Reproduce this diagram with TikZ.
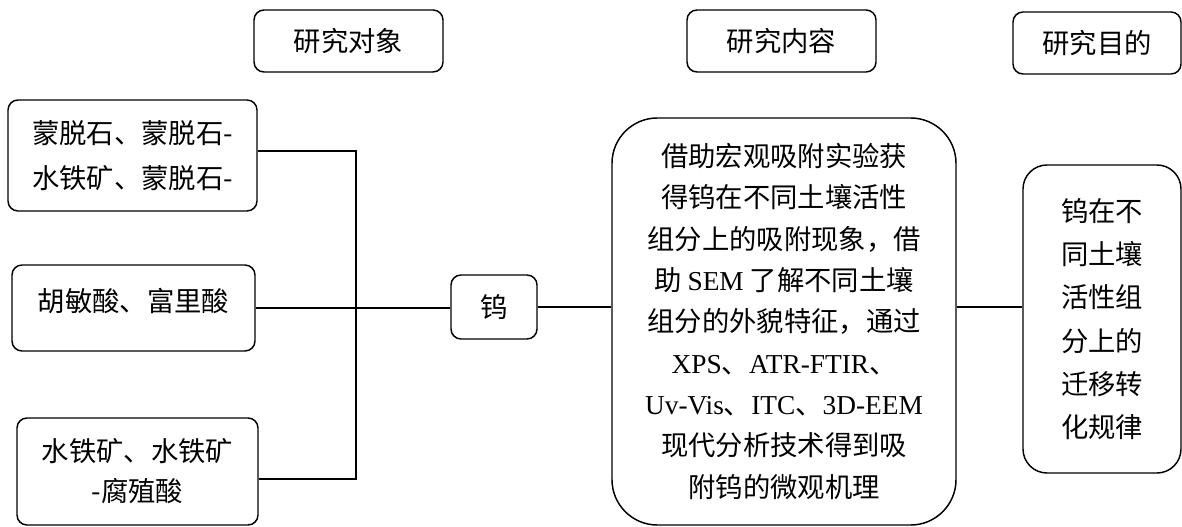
\documentclass[tikz,border=0pt]{standalone}
\usepackage{fontspec}
\setmainfont{Liberation Serif}
\newfontfamily\cjk{Noto Sans CJK SC}
\newcommand{\lat}[1]{{\rmfamily #1}}
\begin{document}
\begin{tikzpicture}[x=0.75pt,y=-0.75pt,
  box/.style={draw, line width=1.1pt, rounded corners=7.5pt, inner sep=0pt, align=center,
    font={\cjk\fontsize{20.5pt}{31pt}\selectfont}},
  txt/.style={inner sep=0pt, align=center, font={\cjk\fontsize{20.5pt}{31pt}\selectfont}},
  conn/.style={line width=1.1pt}]
\useasboundingbox (0,0) rectangle (1182,527);
% titles
\node[box, minimum width=141.75pt, minimum height=46.5pt] (t1) at (348.5,41) {研究对象};
\node[box, minimum width=141.75pt, minimum height=46.5pt] (t2) at (781.5,41) {研究内容};
\node[box, minimum width=126pt, minimum height=46.5pt] (t3) at (1097,43) {研究目的};
% left boxes
\node[box, minimum width=186.75pt, minimum height=83.25pt, font={\cjk\fontsize{20.5pt}{34pt}\selectfont}] (b1) at (132.5,155.5) {蒙脱石、蒙脱石-\\水铁矿、蒙脱石-};
\node[box, minimum width=182.25pt, minimum height=64.5pt] (b2) at (133.5,308) {};
\node[txt] (b2t) at (133.5,301) {胡敏酸、富里酸};
\node[box, minimum width=180.75pt, minimum height=80.25pt, font={\cjk\fontsize{20.5pt}{30pt}\selectfont}] (b3) at (137.5,471.5) {水铁矿、水铁矿\\-腐殖酸};
% tungsten
\node[box, minimum width=64.5pt, minimum height=48pt] (w) at (494,307) {钨};
% main content
\node[box, rounded corners=34pt, minimum width=258pt, minimum height=305.25pt] (m) at (784,321.5)
 {借助宏观吸附实验获\\
  得钨在不同土壤活性\\
  组分上的吸附现象，借\\
  助 \lat{SEM} 了解不同土壤\\
  组分的外貌特征，通过\\
  \lat{XPS}、\lat{ATR-FTIR}、\\
  \lat{Uv-Vis}、\lat{ITC}、\lat{3D-EEM}\\
  现代分析技术得到吸\\
  附钨的微观机理};
% right
\node[box, rounded corners=18pt, minimum width=118.5pt, minimum height=231pt, font={\cjk\fontsize{20.5pt}{32.5pt}\selectfont}] (r) at (1102,319)
 {钨在不\\同土壤\\活性组\\分上的\\迁移转\\化规律};
% connectors
\coordinate (jt) at (356,151);
\coordinate (jb) at (356,479);
\draw[conn] (b1.east |- jt) -- (jt) -- (jb) -- (b3.east |- jb);
\draw[conn] (b2.east) -- (b2.east -| w.west);
\draw[conn] (w.east) -- (w.east -| m.west);
\draw[conn] (m.east |- w.east) -- (r.west |- w.east);
\end{tikzpicture}
\end{document}
